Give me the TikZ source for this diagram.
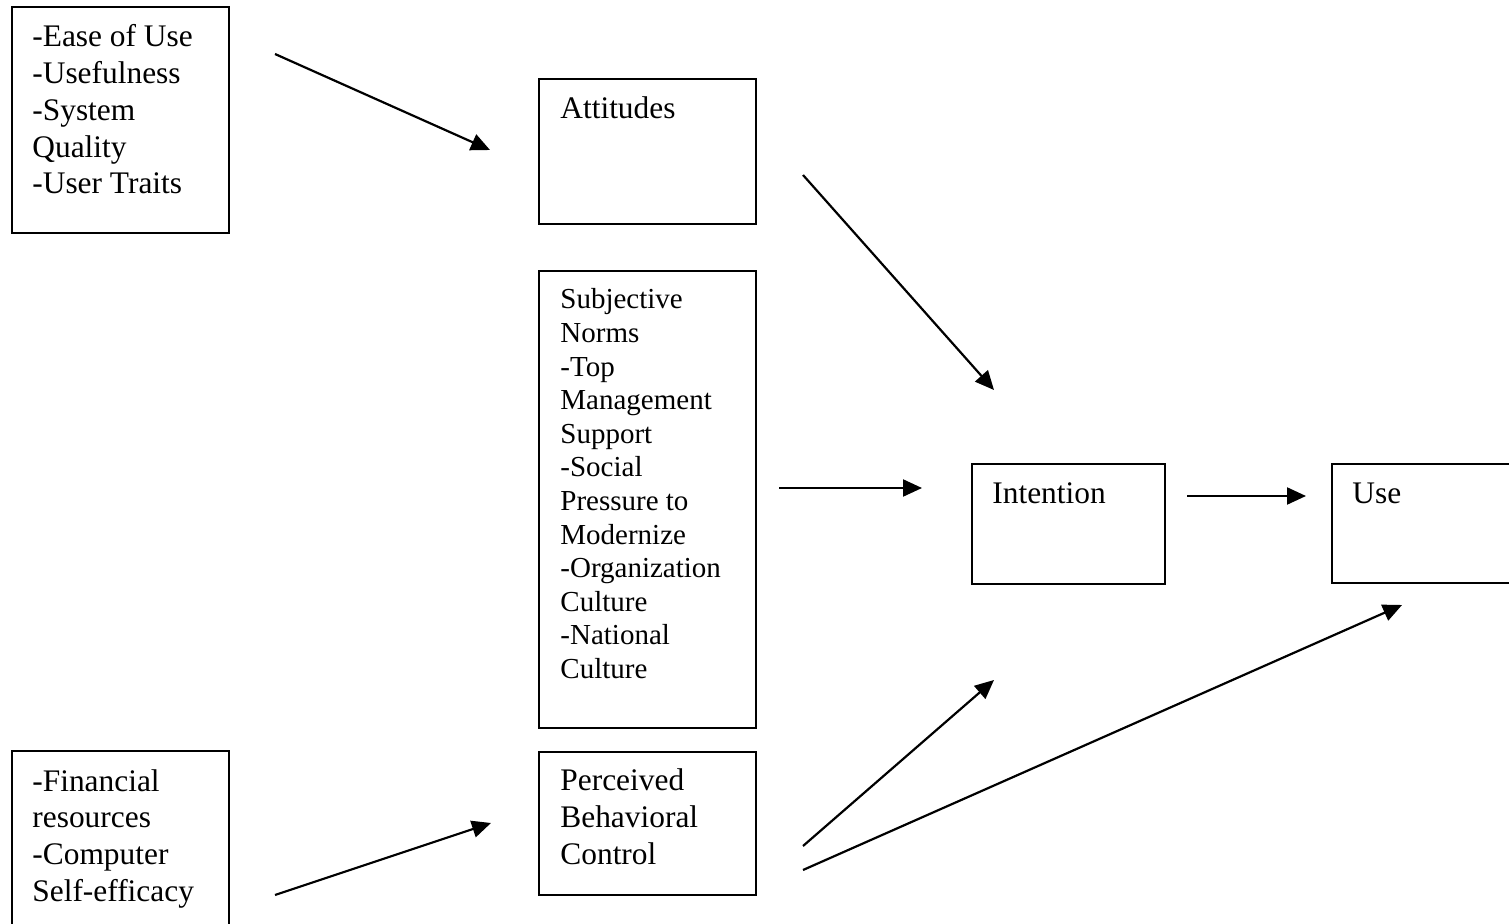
\documentclass[tikz,border=0pt]{standalone}
\usepackage{fontspec}
\setmainfont{Liberation Serif}
\usetikzlibrary{arrows.meta}
\begin{document}
\begin{tikzpicture}[x=0.5pt,y=-0.5pt,
  box/.style={draw,line width=1pt,rectangle,anchor=north west,inner sep=0pt},
  lbl/.style={anchor=base west,inner sep=0pt,font=\fontsize{15.7}{18.4}\selectfont},
  slbl/.style={anchor=base west,inner sep=0pt,font=\fontsize{14.5}{16.8}\selectfont},
  conn/.style={line width=1.1pt,-{Triangle[length=9.5pt,width=8.5pt]}}]
\useasboundingbox (0,0) rectangle (1509,924);
\clip (0,0) rectangle (1509,924);
\fill[white] (0,0) rectangle (1509,924);
% boxes
\node[box,minimum width=108.4pt,minimum height=112.9pt] (bxA) at (11,6) {};
\node[box,minimum width=108.4pt,minimum height=105pt] (bxF) at (11,750) {};
\node[box,minimum width=108.5pt,minimum height=72.3pt] (bxAtt) at (538,78) {};
\node[box,minimum width=108.5pt,minimum height=228.3pt] (bxSN) at (538,270) {};
\node[box,minimum width=108.5pt,minimum height=71.7pt] (bxPBC) at (538,751) {};
\node[box,minimum width=96.3pt,minimum height=60pt] (bxInt) at (971,463) {};
\node[box,minimum width=120pt,minimum height=59.5pt] (bxUse) at (1331,463) {};
% texts
\node[lbl] (tA) at (32,46.7) {\parbox[t]{100pt}{\raggedright -Ease of Use\\-Usefulness\\-System\\Quality\\-User Traits}};
\node[lbl] (tF) at (32,791) {\parbox[t]{100pt}{\raggedright -Financial\\resources\\-Computer\\Self-efficacy}};
\node[lbl] (tAtt) at (560,119) {Attitudes};
\node[slbl] (tSN) at (560,309) {\parbox[t]{100pt}{\raggedright Subjective\\Norms\\-Top\\Management\\Support\\-Social\\Pressure to\\Modernize\\-Organization\\Culture\\-National\\Culture}};
\node[lbl] (tPBC) at (560,790.7) {\parbox[t]{100pt}{\raggedright Perceived\\Behavioral\\Control}};
\node[lbl] (tInt) at (992,503) {Intention};
\node[lbl] (tUse) at (1352,503) {Use};
% connector ends
\coordinate (a1s) at (275,54);   \coordinate (a1e) at (490,150);
\coordinate (a2s) at (275,895);  \coordinate (a2e) at (491,823);
\coordinate (a3s) at (803,175);  \coordinate (a3e) at (994,390);
\coordinate (a4s) at (779,488);  \coordinate (a4e) at (922,488);
\coordinate (a5s) at (1187,496); \coordinate (a5e) at (1306,496);
\coordinate (a6s) at (803,846);  \coordinate (a6e) at (994,680);
\coordinate (a7s) at (803,870);  \coordinate (a7e) at (1402,605);
\draw[conn] (a1s) -- (a1e);
\draw[conn] (a2s) -- (a2e);
\draw[conn] (a3s) -- (a3e);
\draw[conn] (a4s) -- (a4e);
\draw[conn] (a5s) -- (a5e);
\draw[conn] (a6s) -- (a6e);
\draw[conn] (a7s) -- (a7e);
\end{tikzpicture}
\end{document}
